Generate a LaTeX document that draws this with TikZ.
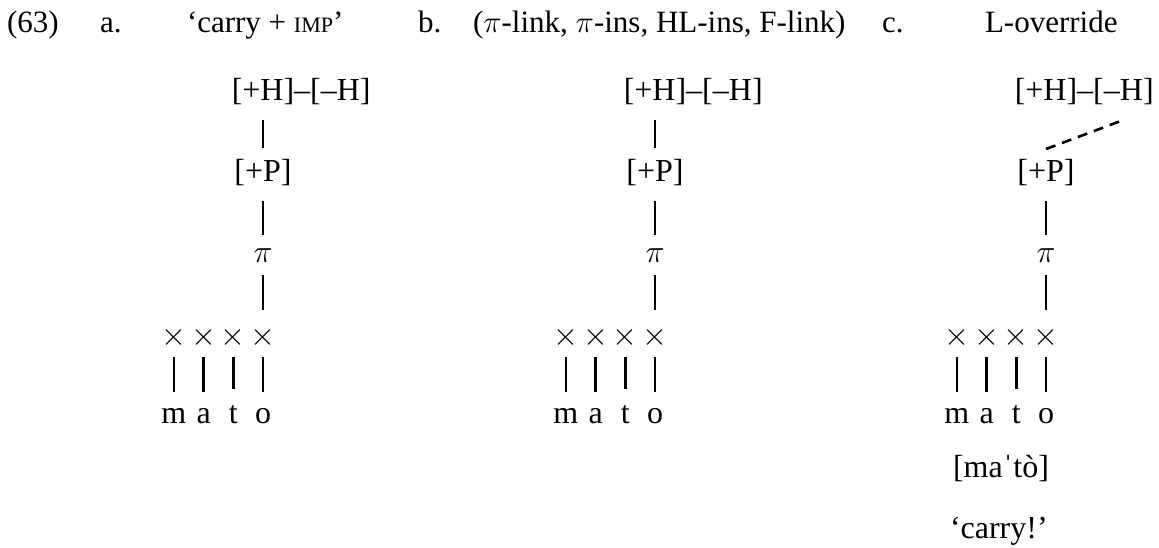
\RequirePackage{fix-cm}
\documentclass[tikz,border=0pt]{standalone}
\usepackage{fontspec}
\setmainfont{Liberation Serif}
\begin{document}
\begin{tikzpicture}[x=1pt,y=-1pt,
  every node/.style={font=\fontsize{31}{37}\selectfont, inner sep=0pt, outer sep=0pt},
  txt/.style={anchor=base west},
  dg/.style={font=\fontsize{32}{38}\selectfont},
  brk/.style={dg, anchor=base, text height=21pt, text depth=6pt},
  pinode/.style={dg, anchor=base, text height=14pt, text depth=0pt},
  xnode/.style={dg, anchor=base, text height=15pt, text depth=0pt},
  seg/.style={dg, anchor=base},
  link/.style={line width=2.8pt},
  dlink/.style={line width=2.6pt, dash pattern=on 10pt off 7pt}]
\useasboundingbox (0,0) rectangle (1159,548);
% header
\node[txt] (num) at (7,33) {(63)};
\node[txt] (la) at (100,33) {a.};
\node[txt] (ta) at (187,33) {‘carry + {\fontsize{22}{22}\selectfont IMP}’};
\node[txt] (lb) at (418,33) {b.};
\node[txt] (tb) at (473,33) {($\pi$-link, $\pi$-ins, HL-ins, F-link)};
\node[txt] (lc) at (882,33) {c.};
\node[txt] (tc) at (985,33) {L-override};
% diagrams
\foreach \d/\X in {a/263,b/655,c/1046}{
  \node[brk] (h\d) at (\X,101) {[+H]};
  \node[dg, anchor=base west] (dash\d) at (h\d.base east) {–};
  \node[dg, anchor=base west, text height=21pt, text depth=6pt] (hm\d) at (dash\d.base east) {[–H]};
  \node[brk] (p\d) at (\X,182) {[+P]};
  \node[pinode] (pi\d) at (\X,262) {$\pi$};
  \draw[link, shorten <=13pt, shorten >=13pt] (p\d) -- (pi\d);
  \foreach \i/\l in {1/m,2/a,3/t,4/o}{
    \node[xnode] (x\i\d) at ({\X-29.7*(4-\i)},345) {$\times$};
    \node[seg] (s\i\d) at ({\X-29.7*(4-\i)},423) {\l};
    \draw[link, shorten <=12pt, shorten >=16pt] (x\i\d) -- (s\i\d);
  }
  \draw[link, shorten <=13pt, shorten >=20pt] (pi\d) -- (x4\d);
}
\draw[link, shorten <=13pt, shorten >=13pt] (ha) -- (pa);
\draw[link, shorten <=13pt, shorten >=13pt] (hb) -- (pb);
\draw[dlink] ([yshift=12pt]pc.north) -- ([yshift=-13pt]hmc.south);
\node[dg, anchor=base west] (phon) at (953,477) {[maˈtò]};
\node[dg, anchor=base west] (gloss) at (950,538) {‘carry!’};
\end{tikzpicture}
\end{document}
